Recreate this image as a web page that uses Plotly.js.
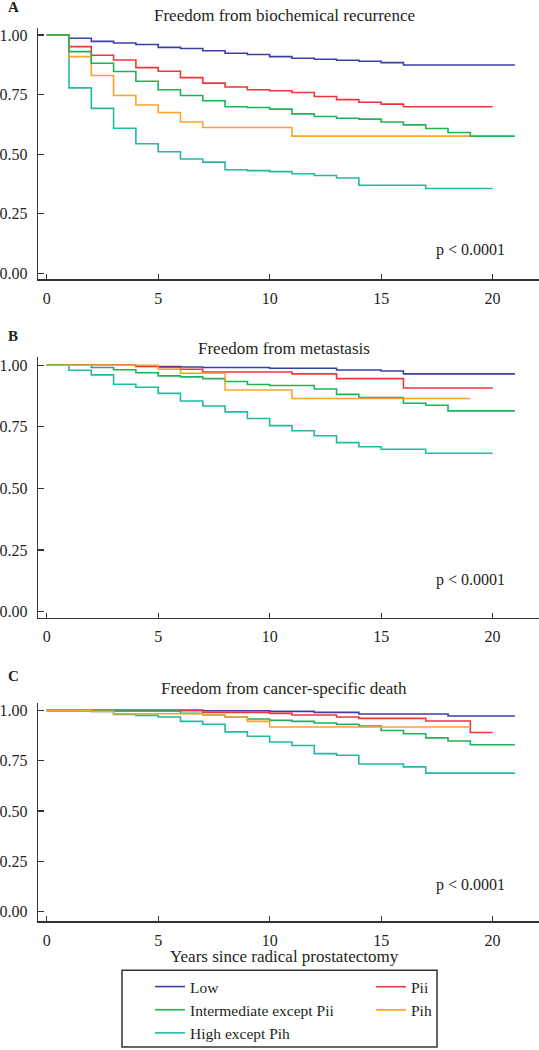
<!DOCTYPE html>
<html><head><meta charset="utf-8">
<script src="https://cdn.plot.ly/plotly-3.0.1.min.js"></script>
<style>html,body{margin:0;padding:0;background:#fff}</style></head>
<body><div id="chart" style="width:539px;height:1050px"></div>
<script>
// ---------- data ----------
const groupNames = ["Low", "Pii", "Intermediate except Pii", "Pih", "High except Pih"];
const panelTitles = ["Freedom from biochemical recurrence", "Freedom from metastasis", "Freedom from cancer-specific death"];
const panelLetters = ["A", "B", "C"];
const pValueText = "p < 0.0001";
const xTickVals = [0, 5, 10, 15, 20];
const yTickVals = [0, 0.25, 0.5, 0.75, 1];
const yTickText = ["0.00", "0.25", "0.50", "0.75", "1.00"];
const xAxisTitle = "Years since radical prostatectomy";

// Panel A: biochemical recurrence
const aLowT  = [0,1,2,3,4,5,6,7,8,9,10,11,12,13,14,15,16,21];
const aLowS  = [1,0.986,0.973,0.966,0.960,0.948,0.943,0.934,0.923,0.918,0.909,0.902,0.898,0.894,0.890,0.884,0.874,0.874];
const aPiiT  = [0,1,2,3,4,5,6,7,8,9,10,11,12,13,14,15,16,20];
const aPiiS  = [1,0.951,0.915,0.895,0.863,0.848,0.821,0.798,0.782,0.770,0.766,0.759,0.742,0.729,0.718,0.710,0.699,0.699];
const aIntT  = [0,1,2,3,4,5,6,7,8,9,10,11,12,13,14,15,16,17,18,19,21];
const aIntS  = [1,0.930,0.881,0.847,0.806,0.770,0.746,0.724,0.699,0.696,0.689,0.669,0.658,0.651,0.647,0.635,0.623,0.608,0.591,0.576,0.576];
const aPihT  = [0,1,2,3,4,5,6,7,11,19];
const aPihS  = [1,0.909,0.830,0.746,0.706,0.675,0.635,0.612,0.576,0.576];
const aHighT = [0,1,2,3,4,5,6,7,8,9,10,11,12,13,14,17,20];
const aHighS = [1,0.778,0.692,0.609,0.544,0.510,0.480,0.467,0.435,0.431,0.427,0.418,0.411,0.400,0.370,0.356,0.356];

// Panel B: metastasis
const bLowT  = [0,4,6,7,10,13,15,16,21];
const bLowS  = [1,0.995,0.993,0.991,0.988,0.981,0.977,0.965,0.965];
const bPiiT  = [0,4,5,6,7,11,13,16,20];
const bPiiS  = [1,0.996,0.991,0.984,0.973,0.965,0.946,0.908,0.908];
const bIntT  = [0,2,3,4,5,6,7,8,9,10,12,13,14,16,17,18,21];
const bIntS  = [1,0.991,0.982,0.970,0.957,0.953,0.946,0.934,0.922,0.918,0.904,0.882,0.869,0.846,0.838,0.815,0.815];
const bPihT  = [0,5,6,8,11,19];
const bPihS  = [1,0.984,0.968,0.900,0.865,0.865];
const bHighT = [0,1,2,3,4,5,6,7,8,9,10,11,12,13,14,15,17,20];
const bHighS = [1,0.980,0.961,0.923,0.911,0.886,0.855,0.835,0.811,0.784,0.755,0.734,0.714,0.686,0.669,0.659,0.643,0.643];

// Panel C: cancer-specific death
const cLowT  = [0,7,10,12,14,18,21];
const cLowS  = [1,0.998,0.995,0.990,0.982,0.972,0.972];
const cPiiT  = [0,7,10,11,13,14,17,19,20];
const cPiiS  = [1,0.990,0.985,0.977,0.967,0.960,0.947,0.890,0.890];
const cIntT  = [0,2,6,7,8,9,10,11,12,13,14,15,16,17,18,19,21];
const cIntS  = [1,0.997,0.985,0.977,0.967,0.957,0.950,0.945,0.937,0.931,0.922,0.900,0.884,0.863,0.848,0.829,0.829];
const cPihT  = [0,2,3,7,8,9,10,19];
const cPihS  = [1,0.995,0.983,0.977,0.967,0.945,0.917,0.917];
const cHighT = [0,2,3,4,5,6,7,8,9,10,11,12,13,14,16,17,21];
const cHighS = [1,0.994,0.980,0.975,0.967,0.945,0.931,0.893,0.871,0.843,0.825,0.785,0.777,0.733,0.719,0.688,0.688];

// ---------- style ----------
const colors = {"Low":"#3c3fa3","Pii":"#f2333c","Intermediate except Pii":"#1fb257","Pih":"#ffa12e","High except Pih":"#22b9a2"};
const legendOf = {"Low":"legend","Intermediate except Pii":"legend","High except Pih":"legend","Pii":"legend2","Pih":"legend2"};
const rankOf = {"Low":1,"Intermediate except Pii":2,"High except Pih":3,"Pii":1,"Pih":2};
const FONT = "Liberation Serif, Times New Roman, serif";
const TXT = "#231f20";

const panels = [
  {x:"x", y:"y", order:["Low","Pii","High except Pih","Pih","Intermediate except Pii"],
   data:{"Low":[aLowT,aLowS],"Pii":[aPiiT,aPiiS],"Intermediate except Pii":[aIntT,aIntS],"Pih":[aPihT,aPihS],"High except Pih":[aHighT,aHighS]}},
  {x:"x2", y:"y2", order:["Low","Pii","High except Pih","Intermediate except Pii","Pih"],
   data:{"Low":[bLowT,bLowS],"Pii":[bPiiT,bPiiS],"Intermediate except Pii":[bIntT,bIntS],"Pih":[bPihT,bPihS],"High except Pih":[bHighT,bHighS]}},
  {x:"x3", y:"y3", order:["Low","Pii","High except Pih","Intermediate except Pii","Pih"],
   data:{"Low":[cLowT,cLowS],"Pii":[cPiiT,cPiiS],"Intermediate except Pii":[cIntT,cIntS],"Pih":[cPihT,cPihS],"High except Pih":[cHighT,cHighS]}}
];

const traces = [];
panels.forEach((p, pi) => {
  p.order.forEach(name => {
    const d = p.data[name];
    traces.push({
      type:"scatter", mode:"lines", x:d[0], y:d[1], xaxis:p.x, yaxis:p.y,
      name:name, line:{shape:"hv", color:colors[name], width:1.6},
      showlegend: pi === 0, legend: legendOf[name], legendrank: rankOf[name],
      hoverinfo:"skip"
    });
  });
});

const W = 539, H = 1050;
const px = v => v / W;
const py = v => (H - v) / H;

function xax(anchor) {
  return {anchor:anchor, domain:[px(38), 1], range:[-0.39, 22.08], showline:true, linecolor:"#333", linewidth:1.3,
    ticks:"inside", ticklen:5, tickwidth:1.2, tickcolor:"#333", tickvals:xTickVals,
    tickfont:{family:FONT, size:16, color:TXT}, showgrid:false, zeroline:false, ticklabelstandoff:4, fixedrange:true};
}
function yax(anchor, top, bottom, v1, v0) {
  // v1 = pixel of value 1, v0 = pixel of value 0
  const unit = v0 - v1;
  return {anchor:anchor, domain:[py(bottom), py(top)], range:[-(bottom - v0)/unit, 1 + (v1 - top)/unit],
    showline:true, linecolor:"#333", linewidth:1.3, ticks:"inside", ticklen:6, tickwidth:1.2, tickcolor:"#333",
    tickvals:yTickVals, ticktext:yTickText, tickfont:{family:FONT, size:16, color:TXT},
    showgrid:false, zeroline:false, ticklabelstandoff:6, fixedrange:true};
}

const annotations = [];
const titleY = [16, 349, 690];
const letterY = [7, 337, 677];
const pY = [250, 581, 887];
for (let i = 0; i < 3; i++) {
  annotations.push({xref:"paper", yref:"paper", x:px(284), y:py(titleY[i]), xanchor:"center", yanchor:"middle",
    text:panelTitles[i], showarrow:false, font:{family:FONT, size:17, color:TXT}});
  annotations.push({xref:"paper", yref:"paper", x:px(13), y:py(letterY[i]), xanchor:"center", yanchor:"middle",
    text:"<b>" + panelLetters[i] + "</b>", showarrow:false, font:{family:FONT, size:15, color:TXT}});
  annotations.push({xref:"paper", yref:"paper", x:px(470), y:py(pY[i]), xanchor:"center", yanchor:"middle",
    text:pValueText, showarrow:false, font:{family:FONT, size:16, color:TXT}});
}
annotations.push({xref:"paper", yref:"paper", x:px(284), y:py(958), xanchor:"center", yanchor:"middle",
  text:xAxisTitle, showarrow:false, font:{family:FONT, size:17, color:TXT}});

const legendBase = {bgcolor:"rgba(0,0,0,0)", borderwidth:0, orientation:"v", yanchor:"top", xanchor:"left",
  font:{family:FONT, size:15.5, color:TXT}, tracegroupgap:0, itemclick:false, itemdoubleclick:false};

const layout = {
  width:W, height:H, margin:{l:0, r:0, t:0, b:0}, paper_bgcolor:"#fff", plot_bgcolor:"#fff",
  font:{family:FONT, color:TXT},
  xaxis:xax("y"), yaxis:yax("x", 28, 280, 35, 274),
  xaxis2:xax("y2"), yaxis2:yax("x2", 358, 619, 366, 612.7),
  xaxis3:xax("y3"), yaxis3:yax("x3", 704, 923, 711.7, 913.3),
  showlegend:true,
  legend:Object.assign({}, legendBase, {x:px(150), y:py(972)}),
  legend2:Object.assign({}, legendBase, {x:px(371), y:py(972)}),
  annotations:annotations,
  shapes:[{type:"rect", xref:"paper", yref:"paper", x0:px(122), x1:px(437), y0:py(1049), y1:py(972),
    line:{color:"#333", width:1.5}, fillcolor:"rgba(0,0,0,0)"}],
  hovermode:false
};

Plotly.newPlot("chart", traces, layout, {staticPlot:true, displayModeBar:false});
</script>
</body></html>
